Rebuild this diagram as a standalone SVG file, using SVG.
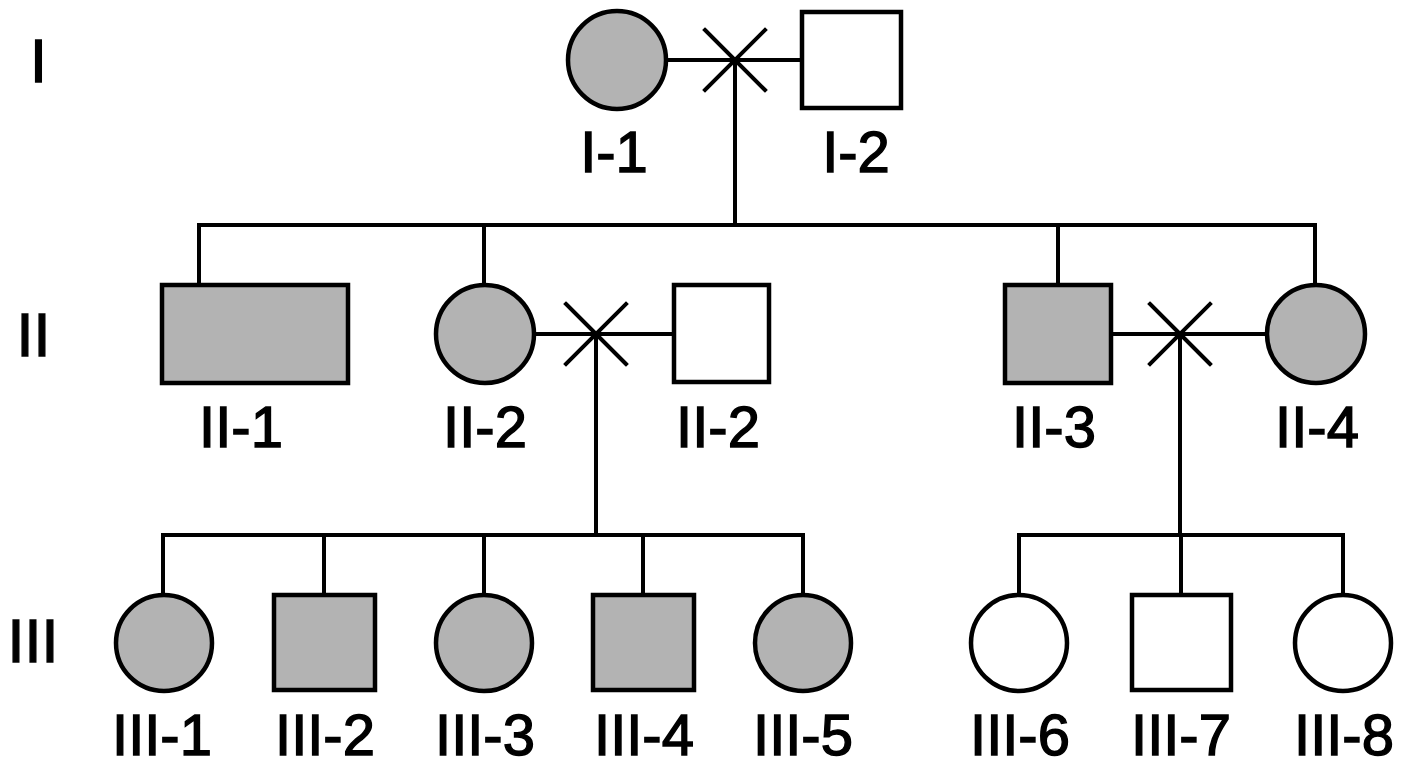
<svg xmlns="http://www.w3.org/2000/svg" width="1408" height="768" viewBox="0 0 1408 768">
  <style>
    .aff { fill: #b3b3b3; stroke: #000; stroke-width: 4.5; }
    .unaff { fill: #fff; stroke: #000; stroke-width: 4.5; }
    .line { stroke: #000; stroke-width: 4; fill: none; stroke-linecap: square; }
    .lbl { font-family: "Liberation Sans", Arial, sans-serif; font-size: 58px; fill: #000; stroke: #000; stroke-width: 1.4; text-anchor: middle; }
    .gen { font-family: "Liberation Sans", Arial, sans-serif; font-size: 61px; fill: #000; stroke: #000; stroke-width: 1.4; text-anchor: middle; }
  </style>
  <rect width="1408" height="768" fill="#fff"/>

  <!-- generation numerals -->
  <g id="generations">
    <text class="gen" x="38.5" y="82">I</text>
    <text class="gen" x="33.5" y="356">II</text>
    <text class="gen" x="33" y="662">III</text>
  </g>

  <!-- connectors: marriage lines, crosses, descent and sibship lines -->
  <g id="connectors" class="line">
    <!-- generation I couple -->
    <path d="M666 60 H801"/>
    <path d="M705 30 L765 90 M705 90 L765 30"/>
    <path d="M735 60 V225"/>
    <path d="M199 225 H1315"/>
    <path d="M199 225 V284 M484 225 V284 M1058 225 V284 M1315 225 V284"/>
    <!-- II-2 couple -->
    <path d="M533 334 H673"/>
    <path d="M566 304 L626 364 M566 364 L626 304"/>
    <path d="M596 334 V535"/>
    <path d="M163 535 H803"/>
    <path d="M163 535 V594 M324 535 V594 M484 535 V594 M643 535 V594 M803 535 V594"/>
    <!-- II-3 couple -->
    <path d="M1112 334 H1266"/>
    <path d="M1150 304 L1210 364 M1150 364 L1210 304"/>
    <path d="M1180 334 V535"/>
    <path d="M1019 535 H1343"/>
    <path d="M1019 535 V594 M1181 535 V594 M1343 535 V594"/>
  </g>

  <!-- generation I -->
  <g id="I-1"><circle class="aff" cx="617" cy="60" r="49"/><text class="lbl" x="614" y="172">I-1</text></g>
  <g id="I-2"><rect class="unaff" x="802" y="12" width="99" height="96"/><text class="lbl" x="856" y="172">I-2</text></g>

  <!-- generation II -->
  <g id="II-1"><rect class="aff" x="162" y="285" width="186" height="98"/><text class="lbl" x="241" y="447">II-1</text></g>
  <g id="II-2"><circle class="aff" cx="485" cy="334" r="49"/><text class="lbl" x="485" y="447">II-2</text></g>
  <g id="II-2-spouse"><rect class="unaff" x="674" y="285" width="95" height="97"/><text class="lbl" x="718" y="447">II-2</text></g>
  <g id="II-3"><rect class="aff" x="1005" y="285" width="106" height="98"/><text class="lbl" x="1054" y="447">II-3</text></g>
  <g id="II-4"><circle class="aff" cx="1316" cy="334" r="49"/><text class="lbl" x="1317" y="447">II-4</text></g>

  <!-- generation III -->
  <g id="III-1"><circle class="aff" cx="164" cy="643" r="48"/><text class="lbl" x="162" y="755">III-1</text></g>
  <g id="III-2"><rect class="aff" x="274" y="595" width="101" height="95"/><text class="lbl" x="325" y="755">III-2</text></g>
  <g id="III-3"><circle class="aff" cx="484" cy="643" r="48"/><text class="lbl" x="485" y="755">III-3</text></g>
  <g id="III-4"><rect class="aff" x="593" y="595" width="101" height="95"/><text class="lbl" x="644" y="755">III-4</text></g>
  <g id="III-5"><circle class="aff" cx="803" cy="643" r="48"/><text class="lbl" x="803" y="755">III-5</text></g>
  <g id="III-6"><circle class="unaff" cx="1019" cy="643" r="48"/><text class="lbl" x="1020" y="755">III-6</text></g>
  <g id="III-7"><rect class="unaff" x="1132" y="595" width="99" height="95"/><text class="lbl" x="1181" y="755">III-7</text></g>
  <g id="III-8"><circle class="unaff" cx="1343" cy="643" r="48"/><text class="lbl" x="1344" y="755">III-8</text></g>
</svg>
